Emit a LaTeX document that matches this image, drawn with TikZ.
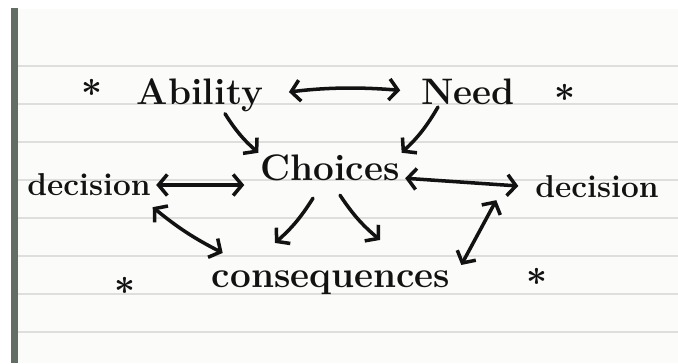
\documentclass[tikz,border=0pt]{standalone}
\usetikzlibrary{positioning, arrows.meta}
\definecolor{PaperWhite}{RGB}{251,251,249}
\definecolor{RuleGray}{RGB}{222,222,220}
\definecolor{MarginGray}{RGB}{98,110,100}
\definecolor{InkBlack}{RGB}{18,18,18}

\begin{document}
\begin{tikzpicture}
  \tikzstyle{word} = [inner sep=1pt, text=InkBlack, font=\fontsize{21}{25}\selectfont\bfseries]
  \tikzstyle{sideword} = [word, font=\fontsize{18}{22}\selectfont\bfseries]
  \tikzstyle{starmark} = [inner sep=0pt, text=InkBlack, font=\fontsize{20}{20}\selectfont\boldmath]
  \tikzstyle{ink} = [draw=InkBlack, line width=2pt, line cap=round,
    -{Straight Barb[length=5pt, width=12pt]}]
  \tikzstyle{inkboth} = [ink,
    {Straight Barb[length=5pt, width=12pt]}-{Straight Barb[length=5pt, width=12pt]}]

  % page
  \useasboundingbox (0,0) rectangle (13.56,7.26);
  \fill[white] (0,0) rectangle (13.56,7.26);
  \fill[PaperWhite] (0.36,0) rectangle (13.56,7.08);
  \fill[MarginGray] (0.22,0) rectangle (0.36,7.10);
  \foreach \y in {0.62,1.38,...,6.70}
    \draw[RuleGray, line width=0.7pt] (0.36,\y) -- (13.56,\y);

  % words
  \node[word] (ability) at (4.00,5.36) {Ability};
  \node[word] (need) at (9.36,5.42) {Need};
  \node[word] (choices) at (6.60,3.90) {Choices};
  \node[sideword] (decleft) at (1.78,3.56) {decision};
  \node[sideword] (decright) at (11.94,3.52) {decision};
  \node[word] (cons) at (6.62,1.60) {consequences};

  % stars
  \node[starmark] (starA) at (1.84,5.50) {$\ast$};
  \node[starmark] (starB) at (11.30,5.40) {$\ast$};
  \node[starmark] (starC) at (2.50,1.54) {$\ast$};
  \node[starmark] (starD) at (10.74,1.72) {$\ast$};

  % arrows
  \draw[inkboth, shorten <=0.48cm, shorten >=0.38cm] (ability.east) to[bend left=6] (need.west);
  \draw[ink] ([xshift=0.5cm]ability.south) to[bend right=8] (choices.north west);
  \draw[ink] ([xshift=-0.6cm]need.south) to[bend left=8] (choices.north east);
  \draw[inkboth, shorten <=2pt, shorten >=8pt] (decleft.east) -- (decleft.east -| choices.west);
  \draw[inkboth, shorten <=2pt, shorten >=0.3cm] ([yshift=-0.2cm]choices.east) -- (decright.west);
  \draw[ink] ([xshift=-0.34cm, yshift=-0.3cm]choices.south)
    to[bend left=8] ([xshift=-1.12cm, yshift=0.52cm]cons.north);
  \draw[ink] ([xshift=0.2cm, yshift=-0.24cm]choices.south)
    to[bend right=8] ([xshift=0.98cm, yshift=0.58cm]cons.north);
  \draw[inkboth] ([yshift=-0.18cm]decleft.south east)
    to[bend right=6] ([xshift=0.26cm, yshift=0.32cm]cons.north west);
  \draw[inkboth] ([xshift=-0.74cm]decright.south west)
    -- ([xshift=0.18cm, yshift=0.08cm]cons.north east);
\end{tikzpicture}
\end{document}
